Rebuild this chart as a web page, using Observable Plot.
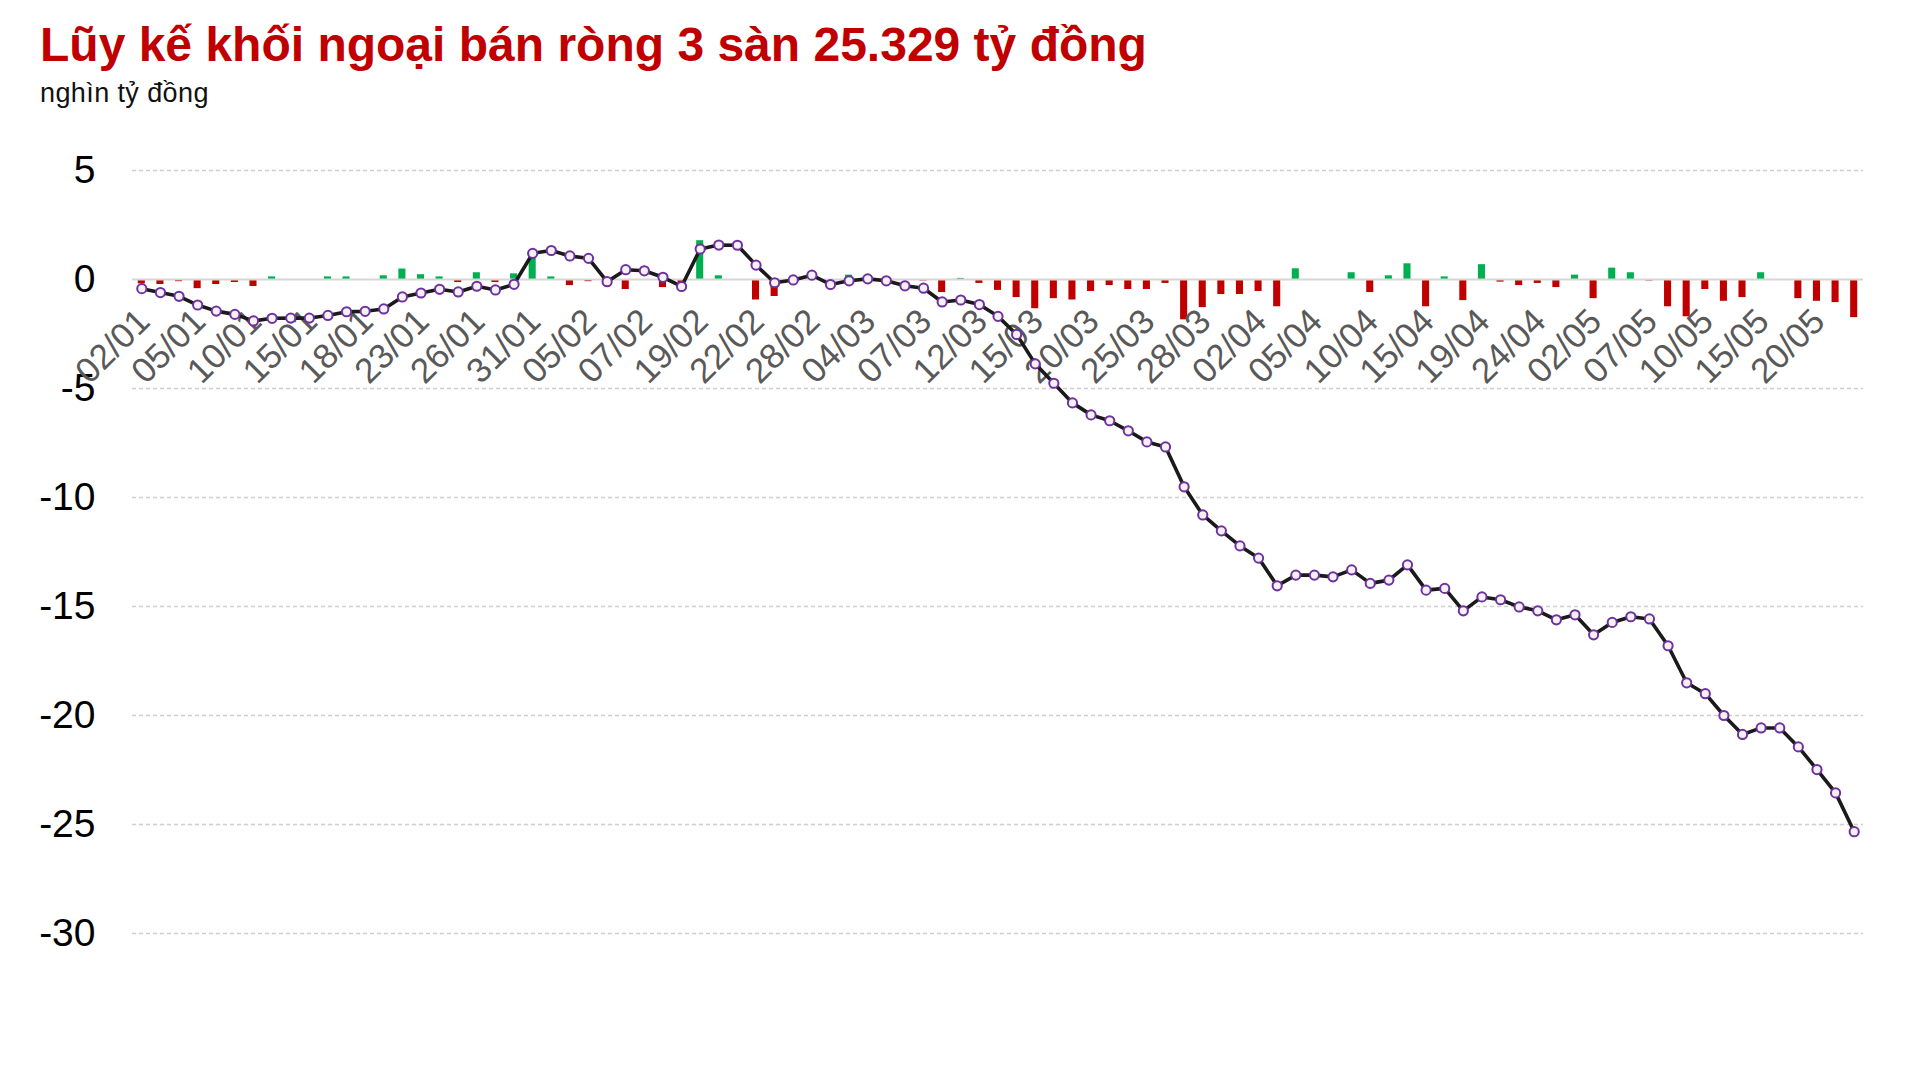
<!DOCTYPE html>
<html><head><meta charset="utf-8">
<script src="https://cdn.jsdelivr.net/npm/d3@7"></script>
<script src="https://cdn.jsdelivr.net/npm/@observablehq/plot@0.6"></script>
<style>
body{margin:0;background:#fff;font-family:"Liberation Sans",Arial,Helvetica,sans-serif;}
#wrap{position:relative;width:1923px;height:1088px;overflow:hidden;}
#title{position:absolute;left:40px;top:21px;font-size:48px;line-height:48px;font-weight:bold;color:#c00000;white-space:nowrap;}
#sub{position:absolute;left:40px;top:80px;font-size:27px;line-height:27px;color:#111;white-space:nowrap;letter-spacing:0.4px;}
#chart{position:absolute;left:0;top:115px;}
</style></head><body>
<div id="wrap">
<div id="title">Lũy kế khối ngoại bán ròng 3 sàn 25.329 tỷ đồng</div>
<div id="sub">nghìn tỷ đồng</div>
<div id="chart"></div>
</div>
<script>
// Daily net trading (nghìn tỷ đồng), one value per session
const daily = [
  -0.20, -0.23, -0.10, -0.42, -0.23, -0.14, -0.32, 0.12, 0, 0,
  0.12, 0.12, 0, 0.17, 0.48, 0.22, 0.12, -0.14, 0.31, -0.14,
  0.26, 0.98, 0.12, -0.28, -0.10, 0, -0.46, 0, -0.37, -0.14,
  1.78, 0.17, 0, -0.94, -0.78, 0, 0, 0, 0.20, 0,
  0, 0, -0.07, -0.60, 0.05, -0.18, -0.50, -0.83, -1.34, -0.88,
  -0.94, -0.55, -0.28, -0.46, -0.46, -0.18, -1.85, -1.29, -0.69, -0.69,
  -0.55, -1.25, 0.49, 0, 0, 0.31, -0.60, 0.17, 0.72, -1.25,
  0.12, -0.97, 0.68, -0.12, -0.28, -0.18, -0.37, 0.20, -0.88, 0.52,
  0.31, -0.07, -1.25, -1.71, -0.46, -1.00, -0.83, 0.31, 0, -0.88,
  -1.00, -1.06, -1.75
];
// Cumulative net (nghìn tỷ đồng)
const cumulative = [
  -0.42, -0.60, -0.77, -1.17, -1.45, -1.60, -1.90, -1.78, -1.77, -1.77,
  -1.65, -1.48, -1.46, -1.35, -0.80, -0.62, -0.45, -0.57, -0.31, -0.48,
  -0.22, 1.20, 1.33, 1.08, 0.97, -0.10, 0.45, 0.40, 0.10, -0.32,
  1.40, 1.58, 1.57, 0.66, -0.15, -0.02, 0.20, -0.23, -0.06, 0.03,
  -0.06, -0.29, -0.40, -1.03, -0.94, -1.15, -1.69, -2.52, -3.87, -4.76,
  -5.66, -6.21, -6.48, -6.94, -7.45, -7.68, -9.51, -10.80, -11.53, -12.22,
  -12.78, -14.05, -13.56, -13.56, -13.64, -13.32, -13.94, -13.79, -13.09, -14.25,
  -14.17, -15.20, -14.56, -14.69, -15.02, -15.20, -15.61, -15.38, -16.30, -15.73,
  -15.47, -15.57, -16.80, -18.50, -19.00, -20.00, -20.87, -20.57, -20.57, -21.44,
  -22.48, -23.55, -25.33
];
// Date labels shown on the axis (every third session)
const tickLabels = [
  "02/01","05/01","10/01","15/01","18/01","23/01","26/01","31/01","05/02","07/02",
  "19/02","22/02","28/02","04/03","07/03","12/03","15/03","20/03","25/03","28/03",
  "02/04","05/04","10/04","15/04","19/04","24/04","02/05","07/05","10/05","15/05","20/05"
];
const tickStep = 3;
const yTicks = [5, 0, -5, -10, -15, -20, -25, -30];

const sessions = daily.map((_, i) => i);
const rows = sessions.map(i => ({i, d: daily[i], c: cumulative[i]}));
const ticks = tickLabels.map((t, k) => ({i: k * tickStep, t}));

const chart = Plot.plot({
  width: 1923,
  height: 973,
  marginLeft: 132,
  marginRight: 60,
  marginTop: 55,
  marginBottom: 155,
  style: {fontFamily: '"Liberation Sans", Arial, Helvetica, sans-serif', background: "transparent", overflow: "visible"},
  x: {type: "band", domain: sessions, paddingInner: 0.62, paddingOuter: 0.31, axis: null},
  y: {domain: [-30, 5]},
  marks: [
    Plot.ruleY(yTicks.filter(v => v !== 0), {stroke: "#cfcfcf", strokeDasharray: "4,3", strokeWidth: 1.3}),
    Plot.barY(rows, {x: "i", y: "d", fill: r => r.d >= 0 ? "#00b050" : "#c00000"}),
    Plot.ruleY([0], {stroke: "#d6d6d6", strokeWidth: 2}),
    Plot.axisY(yTicks, {tickSize: 0, tickPadding: 37, fontSize: 39, tickFormat: d => String(d), fill: "#000"}),
    Plot.text(ticks, {x: "i", y: () => 0, text: "t", rotate: -45, textAnchor: "end", dx: 2, dy: 36, fontSize: 35, fill: "#595959"}),
    Plot.line(rows, {x: "i", y: "c", stroke: "#1a1a1a", strokeWidth: 3.6}),
    Plot.dot(rows, {x: "i", y: "c", r: 4.6, fill: "#f2f2f2", stroke: "#7030a0", strokeWidth: 2})
  ]
});
document.getElementById("chart").appendChild(chart);
</script>
</body></html>
